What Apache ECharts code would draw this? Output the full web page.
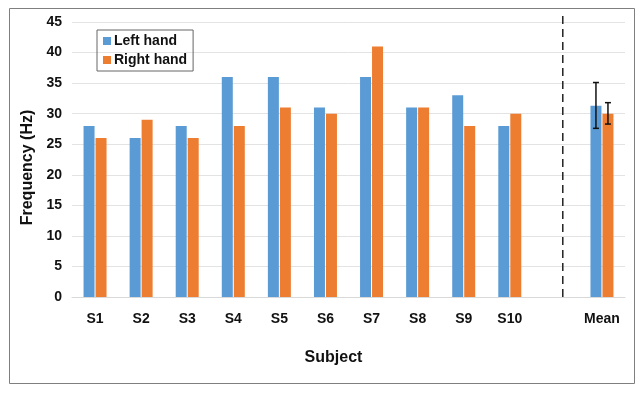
<!DOCTYPE html>
<html><head><meta charset="utf-8">
<script src="https://cdn.jsdelivr.net/npm/echarts@6/dist/echarts.min.js"></script>
<style>html,body{margin:0;padding:0;background:#fff}#c{width:639px;height:393px}</style>
</head><body><div id="c"></div>
<script>
const categories = ['S1','S2','S3','S4','S5','S6','S7','S8','S9','S10','','Mean'];
const leftHand  = [28,26,28,36,36,31,36,31,33,28,null,31.3];
const rightHand = [26,29,26,28,31,30,41,31,28,30,null,30];
const leftErr  = [27.6, 35.1];   // mean error bar low/high (left)
const rightErr = [28.3, 31.8];   // mean error bar low/high (right)
const yTicks = [0,5,10,15,20,25,30,35,40,45];
const dividerPos = 10.65;        // dashed divider position on hidden value axis
const dividerRange = [0, 46.2];

const FONT = 'Liberation Sans';
const chart = echarts.init(document.getElementById('c'));

function errItem(offsetSign){
  return function(params, api){
    const x = api.value(0), lo = api.value(1), hi = api.value(2);
    const pLo = api.coord([x, lo]), pHi = api.coord([x, hi]);
    const cx = pLo[0] + offsetSign * 6;
    const cap = 3;
    const st = {stroke:'#111', lineWidth:1.5};
    return {type:'group', children:[
      {type:'line', shape:{x1:cx,y1:pLo[1],x2:cx,y2:pHi[1]}, style:st},
      {type:'line', shape:{x1:cx-cap,y1:pLo[1],x2:cx+cap,y2:pLo[1]}, style:st},
      {type:'line', shape:{x1:cx-cap,y1:pHi[1],x2:cx+cap,y2:pHi[1]}, style:st}
    ]};
  };
}

function dividerItem(params, api){
  const a = api.coord([api.value(0), api.value(1)]);
  const b = api.coord([api.value(0), api.value(2)]);
  return {type:'line', shape:{x1:a[0],y1:a[1],x2:b[0],y2:b[1]},
    style:{stroke:'#222', lineWidth:1.5, lineDash:[8,5]}};
}

chart.setOption({
  animation:false,
  textStyle:{fontFamily:FONT},
  grid:{left:72, right:14, top:22, bottom:96, containLabel:false},
  legend:{
    left:97, top:30, orient:'vertical',
    data:['Left hand','Right hand'],
    itemWidth:8, itemHeight:8, itemGap:5,
    icon:'rect',
    borderColor:'#666', borderWidth:1, padding:[4,6,4,6],
    textStyle:{fontFamily:FONT, fontWeight:'bold', fontSize:14, color:'#111', padding:[0,0,0,-2]}
  },
  xAxis:[{
    type:'category', data:categories,
    axisLine:{lineStyle:{color:'#d9d9d9'}}, axisTick:{show:false},
    axisLabel:{fontFamily:FONT, fontWeight:'bold', fontSize:14, color:'#111', margin:15, interval:0},
    name:'Subject', nameLocation:'middle', nameGap:53,
    nameTextStyle:{fontFamily:FONT, fontWeight:'bold', fontSize:16, color:'#111', padding:[0,30,0,0]}
  },{
    type:'value', min:0, max:12, show:false
  }],
  yAxis:{
    type:'value', min:0, max:45, interval:5,
    axisLine:{show:false}, axisTick:{show:false},
    splitLine:{lineStyle:{color:'#e3e3e3'}},
    axisLabel:{fontFamily:FONT, fontWeight:'bold', fontSize:14, color:'#111', margin:10},
    name:'Frequency (Hz)', nameLocation:'middle', nameGap:32, nameRotate:90,
    nameTextStyle:{fontFamily:FONT, fontWeight:'bold', fontSize:16, color:'#111', padding:[0,16,0,0]}
  },
  series:[
    {name:'Left hand', type:'bar', data:leftHand, barWidth:11, barGap:'9%',
     itemStyle:{color:'#5B9BD5'}},
    {name:'Right hand', type:'bar', data:rightHand, barWidth:11,
     itemStyle:{color:'#ED7D31'}},
    {type:'custom', renderItem:errItem(-1), data:[[11, leftErr[0], leftErr[1]]], z:5,
     encode:{x:0,y:[1,2]}},
    {type:'custom', renderItem:errItem(1), data:[[11, rightErr[0], rightErr[1]]], z:5,
     encode:{x:0,y:[1,2]}},
    {type:'custom', xAxisIndex:1, renderItem:dividerItem, clip:false, silent:true,
     data:[[dividerPos, dividerRange[0], dividerRange[1]]], encode:{x:0,y:[1,2]}}
  ],
  graphic:[{type:'rect', shape:{x:9.5,y:8.5,width:625,height:375},
    style:{fill:null, stroke:'#7f7f7f', lineWidth:1}, silent:true, z:-1}]
});
</script></body></html>
